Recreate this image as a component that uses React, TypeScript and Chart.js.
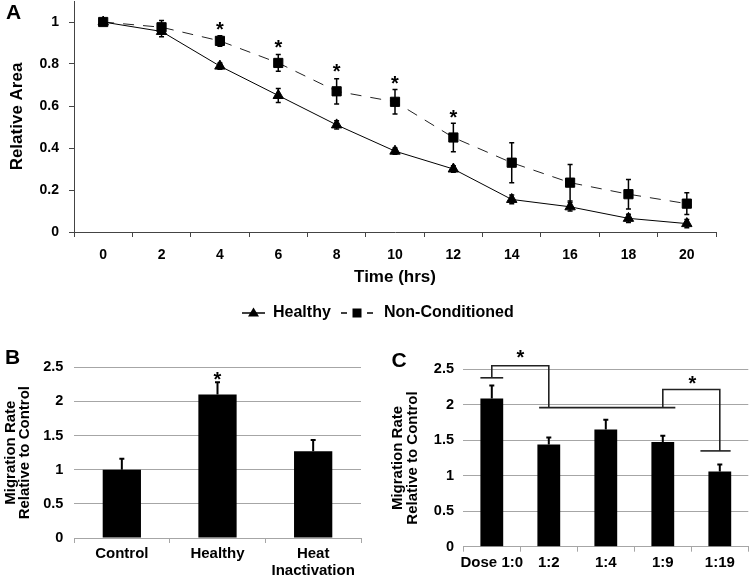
import React, { useEffect, useRef } from "react";
import { Chart, registerables } from "chart.js";

Chart.register(...registerables);

const FONT = '"Liberation Sans", Arial, Helvetica, sans-serif';

// ---------- Panel A data ----------
const timeLabels = ["0", "2", "4", "6", "8", "10", "12", "14", "16", "18", "20"];
const healthyArea = [1.0, 0.955, 0.79, 0.65, 0.51, 0.385, 0.3, 0.155, 0.12, 0.065, 0.04];
const healthyErr = [0, 0.025, 0.015, 0.033, 0.02, 0.015, 0.015, 0.021, 0.02, 0.02, 0.02];
const nonCondArea = [1.0, 0.975, 0.91, 0.805, 0.67, 0.62, 0.45, 0.33, 0.235, 0.18, 0.135];
const nonCondErr = [0, 0.032, 0.025, 0.04, 0.06, 0.058, 0.068, 0.095, 0.087, 0.07, 0.052];
const starAIndex = [2, 3, 4, 5, 6];
const starAValue = [0.99, 0.9, 0.79, 0.73, 0.57];

// ---------- Panel B data ----------
const groupLabels = ["Control", "Healthy", ["Heat", "Inactivation"]];
const groupRate = [1.0, 2.1, 1.27];
const groupErr = [0.16, 0.18, 0.165];
const starBIndex = [1];
const starBValue = [2.4];

// ---------- Panel C data ----------
const doseLabels = ["Dose 1:0", "1:2", "1:4", "1:9", "1:19"];
const doseRate = [2.09, 1.44, 1.65, 1.475, 1.06];
const doseErr = [0.18, 0.1, 0.14, 0.09, 0.1];
const bracketLines = [
  [[-0.2, 2.38], [0.2, 2.38]],
  [[0, 2.38], [0, 2.55], [1, 2.55], [1, 1.96]],
  [[0.83, 1.96], [3.22, 1.96]],
  [[3, 1.96], [3, 2.215], [4, 2.215], [4, 1.35]],
  [[3.66, 1.35], [4.19, 1.35]],
];
const starCIndex = [0.5, 3.52];
const starCValue = [2.74, 2.37];

const bold = (size: number, lineHeight = 1.2) => ({ family: FONT, size, weight: "bold" as const, lineHeight });
const fmt = (v: any) => String(Math.round(Number(v) * 10) / 10);

function drawErrorBars(chart: any, upOnly: boolean, cap: number, width: number) {
  const ctx = chart.ctx;
  const yScale = chart.scales.y;
  chart.data.datasets.forEach((ds: any, di: number) => {
    const errs = ds.errors;
    if (!errs) return;
    const meta = chart.getDatasetMeta(di);
    meta.data.forEach((el: any, i: number) => {
      const e = errs[i];
      if (!e) return;
      const v = ds.data[i];
      const x = el.x;
      const yTop = yScale.getPixelForValue(v + e);
      const yBot = upOnly ? yScale.getPixelForValue(v) : yScale.getPixelForValue(v - e);
      ctx.save();
      ctx.strokeStyle = "#000";
      ctx.lineWidth = width;
      ctx.beginPath();
      ctx.moveTo(x, yTop);
      ctx.lineTo(x, yBot);
      ctx.moveTo(x - cap, yTop);
      ctx.lineTo(x + cap, yTop);
      if (!upOnly) {
        ctx.moveTo(x - cap, yBot);
        ctx.lineTo(x + cap, yBot);
      }
      ctx.stroke();
      ctx.restore();
    });
  });
}

function drawStars(chart: any, idx: number[], vals: number[]) {
  const ctx = chart.ctx;
  const xs = chart.scales.x;
  const ys = chart.scales.y;
  ctx.save();
  ctx.fillStyle = "#000";
  ctx.font = `bold 20px ${FONT}`;
  ctx.textAlign = "center";
  ctx.textBaseline = "alphabetic";
  idx.forEach((ix, k) => {
    const x = xs.getPixelForValue(ix);
    const y = ys.getPixelForValue(vals[k]);
    ctx.fillText("*", x, y + 11.4);
  });
  ctx.restore();
}

function drawLetter(chart: any, letter: string, x: number, y: number) {
  const ctx = chart.ctx;
  ctx.save();
  ctx.fillStyle = "#000";
  ctx.font = `bold 21px ${FONT}`;
  ctx.textAlign = "left";
  ctx.textBaseline = "alphabetic";
  ctx.fillText(letter, x, y);
  ctx.restore();
}

const plainPlugins = { legend: { display: false }, tooltip: { enabled: false } };

export default function App() {
  const refA = useRef<HTMLCanvasElement | null>(null);
  const refB = useRef<HTMLCanvasElement | null>(null);
  const refC = useRef<HTMLCanvasElement | null>(null);

  useEffect(() => {
    const axisDark = "#444";
    const gridGray = "#a6a6a6";

    const decorA = {
      id: "decorA",
      beforeDatasetsDraw(chart: any) {
        drawErrorBars(chart, false, 2.5, 1.5);
      },
      afterDraw(chart: any) {
        drawStars(chart, starAIndex, starAValue);
        drawLetter(chart, "A", 6, 18.5);
        const ctx = chart.ctx;
        const ly = 313;
        ctx.save();
        ctx.fillStyle = "#000";
        ctx.strokeStyle = "#000";
        ctx.lineWidth = 1.5;
        // Healthy legend entry
        ctx.beginPath();
        ctx.moveTo(242, ly);
        ctx.lineTo(265, ly);
        ctx.stroke();
        ctx.beginPath();
        ctx.moveTo(253.5, ly - 5.5);
        ctx.lineTo(259, ly + 3.5);
        ctx.lineTo(248, ly + 3.5);
        ctx.closePath();
        ctx.fill();
        ctx.font = `bold 16px ${FONT}`;
        ctx.textBaseline = "middle";
        ctx.textAlign = "left";
        ctx.fillText("Healthy", 273, ly);
        // Non-Conditioned legend entry
        ctx.beginPath();
        ctx.moveTo(341, ly);
        ctx.lineTo(347, ly);
        ctx.moveTo(367, ly);
        ctx.lineTo(373, ly);
        ctx.stroke();
        ctx.fillRect(352.5, ly - 4.5, 9, 9);
        ctx.fillText("Non-Conditioned", 384, ly);
        ctx.restore();
      },
    };

    const chartA = new Chart(refA.current as HTMLCanvasElement, {
      type: "line",
      data: {
        labels: timeLabels,
        datasets: [
          {
            label: "Healthy",
            data: healthyArea,
            errors: healthyErr,
            borderColor: "#000",
            borderWidth: 1,
            pointStyle: "triangle",
            pointRadius: 6,
            pointBackgroundColor: "#000",
            pointBorderColor: "#000",
            pointBorderWidth: 1,
            fill: false,
            tension: 0,
          } as any,
          {
            label: "Non-Conditioned",
            data: nonCondArea,
            errors: nonCondErr,
            borderColor: "#222",
            borderWidth: 1,
            borderDash: [11, 9],
            pointStyle: "rect",
            pointRadius: 6.5,
            pointBackgroundColor: "#000",
            pointBorderColor: "#000",
            pointBorderWidth: 1,
            fill: false,
            tension: 0,
          } as any,
        ],
      },
      options: {
        responsive: false,
        animation: false,
        devicePixelRatio: 1,
        layout: { autoPadding: false, padding: { left: 0, right: 34, top: 1, bottom: 42 } },
        plugins: plainPlugins as any,
        scales: {
          x: {
            type: "category",
            offset: true,
            grid: { offset: true, drawOnChartArea: false, drawTicks: true, tickLength: 5, color: axisDark },
            border: { display: true, color: axisDark, width: 1 },
            ticks: { font: bold(14), color: "#000", padding: 10, maxRotation: 0, autoSkip: false },
            title: { display: true, text: "Time (hrs)", font: bold(17), color: "#000", padding: { top: 0, bottom: 0 } },
            afterFit: (s: any) => {
              s.height = 56;
              s.paddingLeft = 0;
              s.paddingRight = 0;
            },
          },
          y: {
            min: 0,
            max: 1.1,
            ticks: { stepSize: 0.2, font: bold(14), color: "#000", padding: 10, callback: fmt },
            afterBuildTicks: (s: any) => {
              s.ticks = s.ticks.filter((t: any) => t.value <= 1.0001);
            },
            grid: { drawOnChartArea: false, drawTicks: true, tickLength: 5, color: axisDark },
            border: { display: true, color: axisDark, width: 1 },
            title: { display: true, text: "Relative Area", font: bold(17), color: "#000", padding: { top: 7, bottom: 0 } },
            afterFit: (s: any) => {
              s.width = 74;
              s.paddingTop = 0;
              s.paddingBottom = 0;
            },
          },
        },
      } as any,
      plugins: [decorA],
    });

    const barScales = (yWidth: number, yPad: number, titlePad: number, xHeight: number) => ({
      x: {
        offset: true,
        grid: { offset: true, drawOnChartArea: false, drawTicks: true, tickLength: 5, color: gridGray },
        border: { display: true, color: gridGray, width: 1 },
        ticks: { font: bold(15, 1.1), color: "#000", padding: 3, maxRotation: 0, autoSkip: false },
        afterFit: (s: any) => {
          s.height = xHeight;
          s.paddingLeft = 0;
          s.paddingRight = 0;
        },
      },
      y: {
        min: 0,
        max: 2.5,
        ticks: { stepSize: 0.5, font: bold(14.5), color: "#000", padding: yPad, callback: fmt },
        grid: { drawTicks: false, color: gridGray, lineWidth: 1 },
        border: { display: false },
        title: {
          display: true,
          text: ["Migration Rate", "Relative to Control"],
          font: bold(15, 0.95),
          color: "#000",
          padding: { top: titlePad, bottom: 0 },
        },
        afterFit: (s: any) => {
          s.width = yWidth;
          s.paddingTop = 0;
          s.paddingBottom = 0;
        },
      },
    });

    const decorB = {
      id: "decorB",
      afterDatasetsDraw(chart: any) {
        drawErrorBars(chart, true, 2.5, 2);
        drawStars(chart, starBIndex, starBValue);
        drawLetter(chart, "B", 5, 28.5);
      },
    };

    const chartB = new Chart(refB.current as HTMLCanvasElement, {
      type: "bar",
      data: {
        labels: groupLabels,
        datasets: [
          {
            label: "Migration rate",
            data: groupRate,
            errors: groupErr,
            backgroundColor: "#000",
            barPercentage: 0.4,
            categoryPercentage: 1,
          } as any,
        ],
      },
      options: {
        responsive: false,
        animation: false,
        devicePixelRatio: 1,
        layout: { autoPadding: false, padding: { left: 0, right: 9, top: 32.3, bottom: 0 } },
        plugins: plainPlugins as any,
        scales: barScales(74, 10.7, 3.7, 39) as any,
      } as any,
      plugins: [decorB],
    });

    const decorC = {
      id: "decorC",
      afterDatasetsDraw(chart: any) {
        drawErrorBars(chart, true, 2.5, 2);
        const ctx = chart.ctx;
        const xs = chart.scales.x;
        const ys = chart.scales.y;
        ctx.save();
        ctx.strokeStyle = "#222";
        ctx.lineWidth = 1.6;
        bracketLines.forEach((pts) => {
          ctx.beginPath();
          pts.forEach((p, k) => {
            const x = xs.getPixelForValue(p[0]);
            const y = ys.getPixelForValue(p[1]);
            if (k === 0) ctx.moveTo(x, y);
            else ctx.lineTo(x, y);
          });
          ctx.stroke();
        });
        ctx.restore();
        drawStars(chart, starCIndex, starCValue);
        drawLetter(chart, "C", 16.5, 32.3);
      },
    };

    const chartC = new Chart(refC.current as HTMLCanvasElement, {
      type: "bar",
      data: {
        labels: doseLabels,
        datasets: [
          {
            label: "Migration rate",
            data: doseRate,
            errors: doseErr,
            backgroundColor: "#000",
            barPercentage: 0.4,
            categoryPercentage: 1,
          } as any,
        ],
      },
      options: {
        responsive: false,
        animation: false,
        devicePixelRatio: 1,
        layout: { autoPadding: false, padding: { left: 0, right: 1.7, top: 34.3, bottom: 0 } },
        plugins: plainPlugins as any,
        scales: barScales(88.3, 9.3, 16, 30.3) as any,
      } as any,
      plugins: [decorC],
    });

    return () => {
      chartA.destroy();
      chartB.destroy();
      chartC.destroy();
    };
  }, []);

  return (
    <div style={{ position: "absolute", left: 0, top: 0, width: 750, height: 577, background: "#fff" }}>
      <canvas ref={refA} width={750} height={330} style={{ position: "absolute", left: 0, top: 0 }} />
      <canvas ref={refB} width={370} height={242} style={{ position: "absolute", left: 0, top: 335 }} />
      <canvas ref={refC} width={375} height={242} style={{ position: "absolute", left: 375, top: 335 }} />
    </div>
  );
}
